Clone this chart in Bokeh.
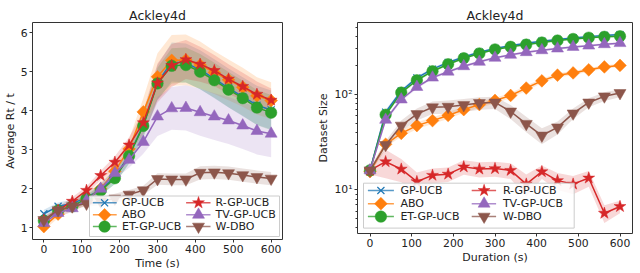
import numpy as np
from bokeh.plotting import figure
from bokeh.models import Range1d, FixedTicker, CustomJSTickFormatter
from bokeh.core.properties import value
from bokeh.layouts import row
from bokeh.embed import file_html
from bokeh.resources import INLINE

# ---------------- data ----------------
t = [0, 37.5, 75, 112.5, 150, 187.5, 225, 262.5, 300, 337.5, 375, 412.5, 450, 487.5, 525, 562.5, 600]
x_ticks = [0, 100, 200, 300, 400, 500, 600]
left_y_ticks = [1, 2, 3, 4, 5, 6]
right_y_ticks = [10, 100]

names = ["GP-UCB", "ABO", "ET-GP-UCB", "R-GP-UCB", "TV-GP-UCB", "W-DBO"]

# Left panel: Average Rt / t (mean and std)
regret_gp = [1.36, 1.55, 1.62, 1.78, 1.98, 2.3, 2.86, 3.63, 4.72, 5.25, 5.22, 5.05, 4.82, 4.58, 4.36, 4.14, 4.02]
regret_abo = [1.03, 1.35, 1.55, 1.72, 2.0, 2.45, 3.02, 3.97, 4.87, 5.29, 5.3, 5.17, 4.98, 4.79, 4.6, 4.38, 4.26]
regret_et = [1.18, 1.44, 1.55, 1.75, 1.95, 2.27, 2.84, 3.61, 4.7, 5.15, 5.17, 5.0, 4.78, 4.54, 4.32, 4.08, 3.95]
regret_r = [1.2, 1.45, 1.68, 1.96, 2.34, 2.68, 3.12, 3.69, 4.71, 5.16, 5.31, 5.19, 5.03, 4.81, 4.62, 4.42, 4.27]
regret_tv = [1.12, 1.38, 1.5, 1.7, 2.0, 2.4, 2.74, 3.2, 3.85, 4.06, 4.07, 3.96, 3.85, 3.75, 3.62, 3.48, 3.41]
regret_w = [1.2, 1.45, 1.55, 1.62, 1.68, 1.75, 1.85, 1.96, 2.25, 2.24, 2.24, 2.41, 2.42, 2.4, 2.35, 2.3, 2.26]

regret_gp_sd = [0.1, 0.1, 0.1, 0.12, 0.15, 0.18, 0.2, 0.3, 0.45, 0.5, 0.5, 0.5, 0.5, 0.5, 0.5, 0.5, 0.5]
regret_abo_sd = [0.1, 0.1, 0.12, 0.15, 0.18, 0.2, 0.25, 0.35, 0.6, 0.65, 0.65, 0.6, 0.55, 0.52, 0.5, 0.48, 0.47]
regret_et_sd = [0.08, 0.08, 0.1, 0.1, 0.12, 0.15, 0.2, 0.3, 0.4, 0.45, 0.45, 0.45, 0.45, 0.45, 0.45, 0.45, 0.45]
regret_r_sd = [0.08, 0.08, 0.1, 0.1, 0.12, 0.15, 0.2, 0.3, 0.5, 0.55, 0.5, 0.45, 0.4, 0.38, 0.35, 0.33, 0.3]
regret_tv_sd = [0.08, 0.08, 0.1, 0.1, 0.12, 0.15, 0.2, 0.3, 0.5, 0.55, 0.58, 0.6, 0.6, 0.6, 0.6, 0.6, 0.6]
regret_w_sd = [0.05, 0.05, 0.06, 0.08, 0.1, 0.12, 0.12, 0.12, 0.15, 0.15, 0.15, 0.17, 0.17, 0.17, 0.17, 0.17, 0.17]

# Right panel: Dataset Size (mean and std)
size_gp = [16, 65, 108, 148, 183, 215, 245, 275, 300, 322, 342, 358, 374, 388, 400, 412, 420]
size_abo = [15.5, 30, 39, 47, 53, 60, 69, 78, 86, 97, 116, 138, 158, 167, 180, 193, 200]
size_et = [16, 61, 104, 140, 174, 206, 238, 267, 294, 313, 330, 347, 364, 378, 390, 398, 404]
size_r = [16, 19.7, 16.5, 12.2, 14.2, 14.6, 17.4, 16.5, 16.7, 16.0, 11.5, 15.5, 12.5, 11.5, 13.3, 5.7, 6.7]
size_tv = [16, 54, 88, 119, 149, 172, 196, 218, 240, 258, 275, 288, 300, 312, 322, 333, 342]
size_w = [16, 29.5, 47, 62, 73, 74, 77, 81, 82, 66, 49, 37, 45, 63, 82, 95, 103]

size_gp_sd = [1, 4, 5, 6, 6, 7, 7, 8, 8, 8, 9, 9, 9, 10, 10, 10, 10]
size_abo_sd = [1, 2, 3, 4, 4, 5, 5, 6, 6, 6, 7, 7, 8, 8, 8, 8, 8]
size_et_sd = [1, 3, 4, 5, 5, 6, 6, 7, 7, 7, 8, 8, 8, 9, 9, 9, 9]
size_r_sd = [1.5, 6.5, 4.5, 3, 2.5, 2.5, 3, 3, 3, 3, 3, 2.5, 2.5, 2.5, 2.5, 1.2, 1.0]
size_tv_sd = [1, 3, 4, 5, 5, 6, 6, 7, 7, 7, 8, 8, 8, 9, 9, 9, 9]
size_w_sd = [1, 3, 6, 9, 11, 12, 12, 12, 12, 11, 9, 7, 7, 8, 9, 10, 10]

# ---------------- styles ----------------
colors = ["#1f77b4", "#ff7f0e", "#2ca02c", "#d62728", "#9467bd", "#8c564b"]
markers = ["x", "square", "circle", "star", "triangle", "inverted_triangle"]
msizes = [10, 9, 11.5, 12.5, 12, 12]
angles = [0, np.pi / 4, 0, 0, 0, 0]
FONT = "DejaVu Sans"
TXT = "#222222"

# legend geometry in screen pixels, measured from the frame's bottom-left corner
LEG_LEFT = dict(box=(57, 247, 3, 43.5), rows=(36.7, 24.7, 12.9),
                cols=[(60.4, 84.2, 72.1, 89.6), (153.6, 178.0, 166.0, 183.1)])
LEG_RIGHT = dict(box=(6, 216.7, 5.4, 50.3), rows=(43.0, 29.8, 16.9),
                 cols=[(10.4, 36.4, 23.4, 42.9), (114.2, 138.6, 126.6, 145.4)])


def style_fig(p):
    p.title.text_font = FONT
    p.title.text_font_size = "12.5px"
    p.title.text_font_style = "normal"
    p.title.text_color = TXT
    p.title.align = "center"
    p.title.standoff = 0
    p.title.offset = 0
    p.xgrid.visible = False
    p.ygrid.visible = False
    p.outline_line_color = "#333333"
    p.outline_line_alpha = 1
    for ax in [p.xaxis[0], p.yaxis[0]]:
        ax.axis_line_color = None
        ax.major_tick_line_color = "#333333"
        ax.major_tick_in = 0
        ax.major_tick_out = 3
        ax.minor_tick_line_color = None
        ax.major_label_text_font = FONT
        ax.major_label_text_font_size = "10.8px"
        ax.major_label_text_color = TXT
        ax.axis_label_text_font = FONT
        ax.axis_label_text_font_size = "11px"
        ax.axis_label_text_font_style = "normal"
        ax.axis_label_text_color = TXT
        ax.major_label_standoff = 2
        ax.axis_label_standoff = 1


def add_series(p, means, sds):
    for i, (m, s) in enumerate(zip(means, sds)):
        m = np.array(m, dtype=float)
        s = np.array(s, dtype=float)
        p.varea(x=t, y1=m - s, y2=m + s, fill_color=colors[i], fill_alpha=0.18)
    for i, m in enumerate(means):
        p.line(t, m, line_color=colors[i], line_width=1.5)
        p.scatter(t, m, marker=markers[i], size=msizes[i], angle=angles[i],
                  fill_color=colors[i], line_color=colors[i],
                  line_width=1.2 if markers[i] == "x" else 0.5)


def add_legend(p, geo, xr, yr, fw, fh, log_y=False):
    def dx(px):
        return xr[0] + px / fw * (xr[1] - xr[0])

    def dy(py):
        if log_y:
            a, b = np.log10(yr[0]), np.log10(yr[1])
            return 10 ** (a + py / fh * (b - a))
        return yr[0] + py / fh * (yr[1] - yr[0])

    l, r, b, tp = geo["box"]
    p.quad(left=[dx(l)], right=[dx(r)], bottom=[dy(b)], top=[dy(tp)],
           fill_color="white", fill_alpha=0.85, line_color="#cccccc", line_width=1)
    for i, name in enumerate(names):
        c = i // 3
        rr = i % 3
        x0, x1, xm, xt = geo["cols"][c]
        yy = dy(geo["rows"][rr])
        p.segment(x0=[dx(x0)], y0=[yy], x1=[dx(x1)], y1=[yy], line_color=colors[i],
                  line_width=1.5, line_alpha=0.75)
        p.scatter([dx(xm)], [yy], marker=markers[i], size=msizes[i], angle=angles[i],
                  fill_color=colors[i], line_color=colors[i],
                  line_width=1.2 if markers[i] == "x" else 0.5)
        p.text([dx(xt)], [yy], text=[name], text_baseline="middle", text_align="left",
               text_font=value(FONT), text_font_size="11px", text_color=TXT)


# ---------------- left figure ----------------
L_XR = (-30, 630)
L_YR = (0.70, 6.26)
L_FW, L_FH = 250, 217
p1 = figure(frame_width=L_FW, frame_height=L_FH, output_backend="svg", toolbar_location=None,
            title="Ackley4d", x_range=Range1d(*L_XR), y_range=Range1d(*L_YR),
            min_border_left=25, min_border_right=32, min_border_top=18, min_border_bottom=27)
style_fig(p1)
p1.xaxis.axis_label = "Time (s)"
p1.yaxis.axis_label = "Average Rt / t"
p1.xaxis.ticker = FixedTicker(ticks=x_ticks)
p1.yaxis.ticker = FixedTicker(ticks=left_y_ticks)
add_series(p1, [regret_gp, regret_abo, regret_et, regret_r, regret_tv, regret_w],
           [regret_gp_sd, regret_abo_sd, regret_et_sd, regret_r_sd, regret_tv_sd, regret_w_sd])
add_legend(p1, LEG_LEFT, L_XR, L_YR, L_FW, L_FH)

# ---------------- right figure ----------------
R_XR = (-30, 630)
R_YR = (3.5, 562)
R_FW, R_FH = 275, 211
p2 = figure(frame_width=R_FW, frame_height=R_FH, output_backend="svg", toolbar_location=None,
            title="Ackley4d", x_range=Range1d(*R_XR), y_range=Range1d(*R_YR),
            y_axis_type="log",
            min_border_left=40, min_border_right=2, min_border_top=22, min_border_bottom=31)
style_fig(p2)
p2.xaxis.axis_label = "Duration (s)"
p2.yaxis.axis_label = "Dataset Size"
p2.xaxis.ticker = FixedTicker(ticks=x_ticks)
p2.yaxis.ticker = FixedTicker(ticks=right_y_ticks,
                              minor_ticks=[4, 5, 6, 7, 8, 9, 20, 30, 40, 50, 60, 70, 80, 90, 200, 300, 400, 500])
p2.yaxis.formatter = CustomJSTickFormatter(code="""
const e = Math.round(Math.log10(tick));
const sup = {'0':'\u2070','1':'\u00b9','2':'\u00b2','3':'\u00b3'};
return '10' + String(e).split('').map(c => sup[c]).join('');
""")
p2.yaxis.minor_tick_line_color = "#333333"
p2.yaxis.minor_tick_in = 0
p2.yaxis.minor_tick_out = 2
add_series(p2, [size_gp, size_abo, size_et, size_r, size_tv, size_w],
           [size_gp_sd, size_abo_sd, size_et_sd, size_r_sd, size_tv_sd, size_w_sd])
add_legend(p2, LEG_RIGHT, R_XR, R_YR, R_FW, R_FH, log_y=True)

layout = row(p1, p2)
open("out.html", "w").write(file_html(layout, INLINE))
